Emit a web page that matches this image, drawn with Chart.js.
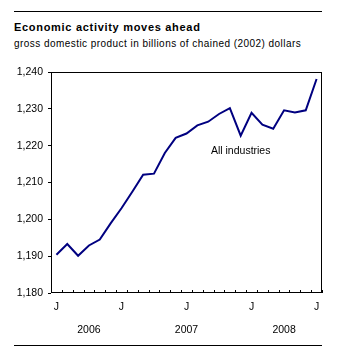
<!DOCTYPE html>
<html>
<head>
<meta charset="utf-8">
<script src="https://cdn.jsdelivr.net/npm/chart.js@4"></script>
<style>
    body { margin: 0; background: #fff; }
    #wrap { position: relative; width: 353px; height: 347px; font-family: "Liberation Sans", Arial, sans-serif; color: #000; }
    .rule { position: absolute; left: 14px; width: 308px; height: 1px; background: #000; }
    #title { position: absolute; left: 14px; top: 21px; margin: 0; font-size: 11px; line-height: 13px; font-weight: bold; letter-spacing: 0.7px; white-space: nowrap; }
    #subtitle { position: absolute; left: 14px; top: 38px; margin: 0; font-size: 10px; line-height: 12px; letter-spacing: 0.45px; white-space: nowrap; }
    #gdpChart { position: absolute; left: 0; top: 0; }
</style>
</head>
<body>
<div id="wrap">
    <div class="rule" style="top: 11px;"></div>
    <h1 id="title">Economic activity moves ahead</h1>
    <p id="subtitle">gross domestic product in billions of chained (2002) dollars</p>
    <canvas id="gdpChart" width="353" height="347"></canvas>
    <div class="rule" style="top: 345px;"></div>
</div>
<script>
// Monthly GDP, all industries, January 2006 to January 2008
const months = [
    '2006-01', '2006-02', '2006-03', '2006-04', '2006-05', '2006-06',
    '2006-07', '2006-08', '2006-09', '2006-10', '2006-11', '2006-12',
    '2007-01', '2007-02', '2007-03', '2007-04', '2007-05', '2007-06',
    '2007-07', '2007-08', '2007-09', '2007-10', '2007-11', '2007-12',
    '2008-01'
];
const gdp = [
    1190.4, 1193.3, 1190.1, 1192.9, 1194.5, 1198.9,
    1203.0, 1207.5, 1212.1, 1212.4, 1218.0, 1222.1,
    1223.3, 1225.5, 1226.5, 1228.6, 1230.2, 1222.7,
    1228.9, 1225.7, 1224.6, 1229.6, 1229.0, 1229.6,
    1238.1
];
// first row of x labels (January / July), second row holds the years
const monthTicks = [
    'J', '', '', '', '', '', 'J', '', '', '', '', '',
    'J', '', '', '', '', '', 'J', '', '', '', '', '',
    'J'
];
const yearTicks = [
    '', '', '', '2006', '', '', '', '', '', '', '', '',
    '2007', '', '', '', '', '', '', '', '', '2008', '', '',
    ''
];
const yMin = 1180;
const yMax = 1240;
const yStep = 10;
const seriesName = 'All industries';
const seriesLabelAt = [17, 1218.5];

// frame round the plot, small inward ticks on the time axis, series label
const frame = {
    id: 'frame',
    afterDatasetsDraw(chart) {
        const { ctx, chartArea: a, scales } = chart;
        const x = scales.x;
        ctx.save();
        ctx.strokeStyle = '#000';
        ctx.lineWidth = 1;
        ctx.strokeRect(a.left + 0.5, a.top + 0.5, a.right - a.left - 1, a.bottom - a.top - 1);
        ctx.beginPath();
        for (let i = 0; i <= months.length; i++) {
            const px = Math.round(x.getPixelForValue(i - 0.5)) + 0.5;
            ctx.moveTo(px, a.bottom);
            ctx.lineTo(px, a.bottom - 3);
        }
        ctx.stroke();
        ctx.fillStyle = '#000';
        ctx.font = '10.5px "Liberation Sans", Arial, sans-serif';
        ctx.textAlign = 'center';
        ctx.textBaseline = 'middle';
        ctx.fillText(seriesName, x.getPixelForValue(seriesLabelAt[0]), scales.y.getPixelForValue(seriesLabelAt[1]));
        ctx.restore();
    }
};

new Chart(document.getElementById('gdpChart'), {
    type: 'line',
    data: {
        labels: months,
        datasets: [{
            label: seriesName,
            data: gdp,
            borderColor: '#000080',
            borderWidth: 2,
            pointRadius: 0,
            tension: 0,
            fill: false
        }]
    },
    options: {
        responsive: false,
        animation: false,
        layout: { padding: { left: 0, right: 31, top: 72, bottom: 0 } },
        plugins: {
            legend: { display: false },
            tooltip: { enabled: false }
        },
        scales: {
            x: {
                offset: true,
                grid: { display: false, drawTicks: false },
                border: { display: false },
                afterFit: scale => { scale.height = 54; },
                ticks: {
                    autoSkip: false,
                    maxRotation: 0,
                    padding: 2,
                    color: '#000',
                    font: { family: '"Liberation Sans", Arial, sans-serif', size: 10.5, lineHeight: 2.22 },
                    callback: (val, i) => [monthTicks[i], yearTicks[i]]
                }
            },
            y: {
                min: yMin,
                max: yMax,
                grid: { drawOnChartArea: false, drawTicks: true, tickLength: 3, color: '#000' },
                border: { display: false },
                afterFit: scale => { scale.width = 51; },
                ticks: {
                    stepSize: yStep,
                    padding: 5,
                    color: '#000',
                    font: { family: '"Liberation Sans", Arial, sans-serif', size: 10.5 },
                    callback: v => v.toLocaleString('en-US')
                }
            }
        }
    },
    plugins: [frame]
});
</script>
</body>
</html>
